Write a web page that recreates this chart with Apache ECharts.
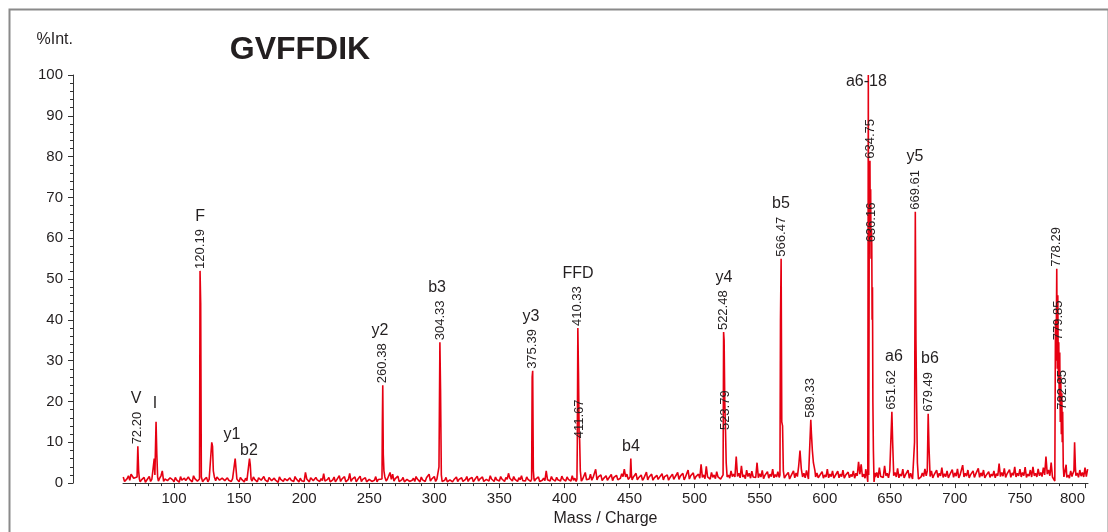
<!DOCTYPE html>
<html><head><meta charset="utf-8">
<script src="https://cdn.jsdelivr.net/npm/echarts@6/dist/echarts.min.js"></script>
<style>html,body{margin:0;padding:0;background:#fff}#c{width:1108px;height:532px}</style>
</head><body><div id="c"></div>
<script>
// ---- data ----
const title = 'GVFFDIK';
const xName = 'Mass / Charge';
const yName = '%Int.';
const xMajorTicks = [100,150,200,250,300,350,400,450,500,550,600,650,700,750,800];

// baseline noise [m/z, %int]
const baseline = [
 [61,1.5],[63,0.6],[65,1.8],[67,2.2],[69,1.2],[75,0.8],[77,1.4],[79,0.7],[81,1.6],[83,1.0],
 [89,1.2],[91,3.0],[93,1.0],[95,0.6],[97,1.3],[99,0.8],[101,1.4],[103,0.7],[105,1.6],[107,1.1],
 [109,0.6],[111,1.5],[113,0.9],[115,1.8],[117,1.0],[123,0.8],[125,1.4],[127,0.9],[133,1.5],[135,0.7],
 [137,1.2],[139,0.6],[141,1.3],[143,0.9],[145,1.1],[149,0.8],[151,1.4],[153,0.7],[155,1.2],[161,1.5],
 [163,0.8],[165,1.3],[167,0.7],[169,1.6],[171,0.9],[173,1.4],[175,0.6],[177,1.2],[179,0.8],[181,1.5],
 [183,0.7],[185,1.1],[187,0.6],[189,1.3],[191,0.9],[193,1.6],[195,0.7],[197,1.2],[199,0.8],[201,2.6],
 [203,0.9],[205,1.3],[207,0.6],[209,1.4],[211,0.8],[213,1.1],[215,2.3],[217,0.9],[219,1.4],[221,0.7],
 [223,1.5],[225,0.8],[227,1.8],[229,1.0],[231,1.6],[233,0.7],[235,2.4],[237,1.0],[239,1.5],[241,0.8],
 [243,1.7],[245,0.9],[247,1.3],[249,0.7],[251,1.2],[253,0.8],[255,1.6],[257,0.9],[264,1.0],[266,2.6],
 [268,2.2],[270,1.1],[272,1.7],[274,0.8],[276,1.4],[278,0.7],[280,1.3],[282,0.8],[284,1.2],[286,1.6],
 [288,0.7],[290,1.5],[292,0.9],[294,1.3],[296,2.2],[298,1.0],[300,1.6],[307,0.8],[309,1.4],[311,0.7],
 [313,1.2],[315,0.8],[317,1.5],[319,0.9],[321,1.3],[323,0.7],[325,1.6],[327,1.0],[329,1.4],[331,0.8],
 [333,1.7],[335,1.0],[337,1.5],[339,0.8],[341,1.3],[343,1.8],[345,0.9],[347,1.5],[349,1.0],[351,1.6],
 [353,0.9],[355,1.4],[357,2.4],[359,1.1],[361,1.6],[363,0.8],[365,1.3],[367,1.8],[369,1.0],[371,1.5],
 [373,0.9],[378,1.0],[380,1.5],[382,0.8],[384,1.2],[386,3.0],[388,1.0],[390,1.6],[392,0.9],[394,1.4],
 [396,1.1],[398,1.7],[400,0.9],[402,1.5],[404,1.0],[406,1.8],[408,1.2],[414,1.0],[416,2.6],[418,1.2],
 [420,2.2],[422,1.4],[424,3.4],[426,1.5],[428,2.0],[430,1.1],[432,1.8],[434,1.2],[436,2.1],[438,1.4],
 [440,1.9],[442,1.2],[444,2.3],[446,3.4],[448,2.2],[453,1.5],[455,2.4],[457,1.3],[459,2.0],[461,1.2],
 [463,2.7],[465,1.5],[467,2.2],[469,1.3],[471,1.9],[473,1.4],[475,2.3],[477,1.6],[479,2.0],[481,1.3],
 [483,2.2],[485,1.5],[487,2.6],[489,1.7],[491,2.4],[493,1.5],[495,3.2],[497,1.8],[499,2.5],[501,1.6],
 [503,2.2],[505,4.6],[507,2.0],[509,4.1],[511,1.8],[513,2.6],[515,2.0],[517,2.8],[519,1.7],[526,2.0],
 [528,3.0],[530,2.2],[532,6.5],[534,2.4],[536,4.2],[538,2.0],[540,3.2],[542,2.4],[544,2.9],[546,1.9],
 [548,5.0],[550,2.3],[552,3.1],[554,1.9],[556,2.8],[558,2.2],[560,3.4],[562,2.1],[564,2.8],[570,1.8],
 [572,2.6],[574,1.7],[576,3.0],[578,2.5],[580,4.2],[581,8.0],[582,3.5],[584,2.4],[586,3.1],[587.5,1.0],
 [594,2.5],[596,1.8],[598,2.8],[600,2.0],[602,3.4],[604,2.2],[606,3.0],[608,1.8],[610,2.9],[612,2.2],
 [614,3.2],[616,1.9],[618,2.7],[620,2.1],[622,3.0],[624,2.4],[626,5.2],[628,4.6],[630,2.2],[631.5,3.4],
 [640,2.6],[642,3.8],[644,2.0],[646,4.2],[648,2.4],[650,3.0],[654,2.6],[656,3.6],[658,2.2],[660,3.4],
 [662,2.0],[664,3.2],[666,2.4],[667.5,1.0],[673.5,0.8],[675,2.5],[677,3.5],[682,3.0],[684,2.0],[686,3.2],
 [688,2.4],[690,3.8],[692,2.3],[694,3.0],[696,2.0],[698,3.3],[700,2.5],[702,3.5],[704,2.0],[706,4.4],
 [708,2.4],[710,3.2],[712,2.0],[714,3.0],[716,2.2],[718,3.6],[720,2.5],[722,3.2],[724,1.9],[726,2.8],
 [728,2.2],[730,3.0],[732,2.3],[734,4.8],[736,2.6],[738,3.6],[740,2.2],[742,3.3],[744,2.5],[746,4.0],
 [748,2.4],[750,3.4],[752,2.6],[754,3.9],[756,2.2],[758,3.2],[760,4.0],[762,2.4],[764,3.5],[766,2.6],
 [768,3.8],[770,6.5],[772,3.2],[774,5.0],[775.5,1.8],[785.5,4.5],[787,2.0],[789,3.0],[790.5,2.2],[794,2.5],
 [796,3.2],[798,2.6],[800,3.8],[802,3.4]
];
// troughs of the noise between the samples above [m/z, %int]
const baselineLows = [
 [62,0.4],[64,1.1],[66,0.7],[68,2.6],[70,0.9],[74,0.3],[76,0.9],[78,0.2],[80,0.8],[82,0.4],
 [88,0.5],[90,1.8],[92,0.4],[94,1.0],[96,0.3],[98,0.9],[100,0.3],[102,0.8],[104,0.2],[106,0.7],
 [108,1.2],[110,0.4],[112,0.9],[114,0.3],[116,1.1],[118,0.5],[122,0.3],[124,0.7],[126,0.3],[132,0.6],
 [134,1.1],[136,0.3],[138,0.9],[140,0.3],[142,0.7],[144,0.4],[150,0.3],[152,0.9],[154,0.3],[156,0.6],
 [160,0.5],[162,0.9],[164,0.3],[166,1.0],[168,0.4],[170,0.8],[172,0.3],[174,1.1],[176,0.3],[178,0.7],
 [180,0.2],[182,0.9],[184,0.4],[186,0.8],[188,0.3],[190,0.7],[192,0.4],[194,1.0],[196,0.3],[198,0.6],
 [200,0.4],[202,1.0],[204,0.3],[206,0.9],[208,0.3],[210,0.8],[212,0.4],[214,0.6],[216,0.5],[218,0.9],
 [220,0.3],[222,0.8],[224,0.3],[226,1.0],[228,0.4],[230,0.8],[232,0.3],[234,0.9],[236,0.4],[238,0.8],
 [240,0.3],[242,1.0],[244,0.4],[246,0.8],[248,0.3],[250,0.9],[252,0.4],[254,0.7],[256,0.3],[258,0.8],
 [263,0.5],[265,1.0],[267,0.9],[269,0.5],[271,0.9],[273,0.4],[275,0.8],[277,0.3],[279,0.9],[281,0.4],
 [283,0.7],[285,0.4],[287,1.0],[289,0.3],[291,0.8],[293,0.4],[295,1.0],[297,0.5],[299,0.7],[301,0.4],
 [302,1.0],[306,0.4],[308,0.7],[310,0.3],[312,0.8],[314,0.3],[316,0.9],[318,0.4],[320,0.7],[322,0.4],
 [324,0.9],[326,0.4],[328,0.8],[330,0.3],[332,0.9],[334,0.5],[336,0.8],[338,0.4],[340,0.9],[342,0.5],
 [344,1.0],[346,0.4],[348,0.8],[350,0.5],[352,1.0],[354,0.4],[356,0.9],[358,1.2],[360,0.5],[362,0.9],
 [364,0.4],[366,0.8],[368,0.6],[370,0.5],[372,0.9],[374,0.4],[377,0.5],[379,0.8],[381,0.4],[383,0.7],
 [385,0.6],[387,0.8],[389,0.5],[391,0.9],[393,0.5],[395,0.8],[397,0.5],[399,1.0],[401,0.5],[403,0.9],
 [405,0.5],[407,0.7],[409,0.4],[413,0.5],[415,1.3],[417,0.8],[419,1.0],[421,0.7],[423,1.5],[425,0.8],
 [427,1.2],[429,0.6],[431,1.1],[433,0.7],[435,1.2],[437,0.6],[439,1.1],[441,0.8],[443,1.2],[445,1.6],
 [447,1.5],[449,0.9],[452,0.8],[454,1.1],[456,0.8],[458,1.2],[460,0.7],[462,1.3],[464,0.8],[466,1.2],
 [468,0.7],[470,1.3],[472,0.9],[474,1.2],[476,0.8],[478,1.4],[480,0.7],[482,1.3],[484,0.9],[486,1.5],
 [488,0.9],[490,1.3],[492,0.8],[494,1.6],[496,1.0],[498,1.4],[500,0.9],[502,1.5],[504,1.2],[506,1.4],
 [508,1.1],[510,1.5],[512,1.0],[514,1.4],[516,1.1],[518,1.5],[520,1.0],[525,1.5],[527,1.2],[529,1.6],
 [531,1.5],[533,1.6],[535,1.3],[537,1.5],[539,1.1],[541,1.6],[543,1.2],[545,1.5],[547,1.4],[549,1.3],
 [551,1.5],[553,1.1],[555,1.6],[557,1.2],[559,1.6],[561,1.3],[563,1.5],[565,1.4],[569,1.2],[571,1.4],
 [573,1.0],[575,1.5],[577,1.3],[579,1.6],[583,1.5],[585,1.3],[593,1.5],[595,1.3],[597,1.6],[599,1.2],
 [601,1.5],[603,1.3],[605,1.6],[607,1.2],[609,1.5],[611,1.3],[613,1.6],[615,1.2],[617,1.5],[619,1.3],
 [621,1.6],[623,1.2],[625,1.8],[627,2.2],[629,1.5],[631,1.2],[639,1.5],[641,1.3],[643,1.6],[645,1.4],
 [647,1.8],[649,1.3],[653,1.8],[655,1.5],[657,1.3],[659,1.7],[661,1.3],[663,1.6],[665,1.2],[674,1.5],
 [676,1.6],[678,1.8],[681,1.6],[683,1.3],[685,1.7],[687,1.4],[689,1.8],[691,1.4],[693,1.6],[695,1.3],
 [697,1.7],[699,1.4],[701,1.7],[703,1.3],[705,1.8],[707,1.5],[709,1.7],[711,1.3],[713,1.6],[715,1.4],
 [717,1.8],[719,1.4],[721,1.7],[723,1.3],[725,1.6],[727,1.4],[729,1.7],[731,1.3],[733,1.8],[735,1.6],
 [737,1.7],[739,1.4],[741,1.8],[743,1.4],[745,1.9],[747,1.5],[749,1.8],[751,1.5],[753,1.8],[755,1.4],
 [757,1.7],[759,1.5],[761,1.8],[763,1.5],[765,1.8],[767,1.6],[769,2.0],[771,2.2],[773,1.8],[775,1.5],
 [786,1.4],[788,1.2],[790,1.6],[793,1.8],[795,1.4],[797,1.7],[799,1.5],[801,1.6]
];

// peak profiles [m/z, %int]
const peaks = [
 [71.6,1.5],[72.2,9],[72.8,3],[73.4,1],
 [84.3,1],[84.8,6],[85.3,2],[85.7,2],[86.2,15],[86.8,7],[87.4,1.5],
 [119.6,1],[120.0,52],[120.5,44],[121.0,1.5],
 [128.5,1],[129.0,10],[129.6,9],[130.2,3],[131.0,1.5],
 [146.5,1],[147.0,6],[147.8,6],[148.3,1],
 [157.4,1],[158.0,6],[158.6,4.5],[159.2,1],
 [259.8,1],[260.1,15],[260.4,24],[260.8,7],[261.3,3],[262.0,1.5],
 [303.0,1],[303.6,4],[304.3,34.5],[304.8,23],[305.4,2],
 [374.8,1],[375.2,26],[375.6,27.5],[376.1,3],[376.6,1],
 [409.6,1],[409.9,10],[410.3,38],[410.8,27],[411.3,12],[411.7,10.5],[412.2,3],
 [450.5,1.5],[451.0,6],[451.5,2],
 [521.9,2],[522.3,37],[522.7,35],[523.2,20],[523.8,12.5],[524.3,5],[524.8,2.5],
 [565.6,2],[566.0,40],[566.5,55],[567.0,15],[567.6,14],[568.2,3],
 [588.7,1],[589.3,15.5],[589.8,12],[590.5,8],[591.3,5],[592.5,3],
 [632.6,1.5],[633.1,0.3],[633.5,100],[633.8,2],[634.3,78],[634.5,60],[634.75,79],[635.0,62],[635.3,72],
 [635.6,55],[635.9,62],[636.16,58.5],[636.4,40],[636.7,48],[637.0,20],[637.4,8],[637.9,0.3],[638.6,2.5],
 [651.0,3],[651.6,17.5],[652.2,10],[652.8,4],
 [668.5,1],[669.0,10],[669.6,66.5],[670.1,35],[670.6,20],[671.2,5],[672.0,1],
 [678.8,3],[679.5,17],[680.1,9],[680.8,3],
 [776.8,0.5],[777.3,40],[777.8,30],[778.29,52.5],[778.7,28],[779.1,46],[779.5,25],[779.85,34.5],[780.2,20],
 [780.6,32],[781.0,15],[781.4,26],[781.8,12],[782.2,22],[782.5,10],[782.85,17.5],[783.3,4],[783.8,1.5],
 [791.5,3],[792.0,10],[792.6,4]
];

// vertical m/z annotations
const mzLabels   = ['72.20','120.19','260.38','304.33','375.39','410.33','411.67','522.48','523.79','566.47','589.33','634.75','636.16','651.62','669.61','679.49','778.29','779.85','782.85'];
const mzLabelPos = [72.2, 120.19, 260.38, 304.33, 375.39, 410.33, 411.67, 522.48, 523.79, 566.47, 589.33, 634.75, 636.16, 651.62, 669.61, 679.49, 778.29, 779.85, 782.85];
const mzLabelInt = [9, 52, 24, 34.5, 27.5, 38, 10.5, 37, 12.5, 55, 15.5, 79, 58.5, 17.5, 66.5, 17, 52.5, 34.5, 17.5];

// ion annotations
const ionNames  = ['V','I','F','y1','b2','y2','b3','y3','FFD','b4','y4','b5','a6-18','a6','y5','b6'];
const ionPos    = [70.9, 85.4, 120.0, 144.6, 157.6, 258.3, 302.1, 374.3, 410.4, 451.1, 522.6, 566.4, 632.0, 653.2, 669.3, 680.9];
const ionLevel  = [9, 17.1, 52, 9.5, 5.6, 24, 34.5, 27.5, 38, 6.6, 37, 55, 96, 17.5, 66.5, 17];
const ionAbove  = ['72.20','','120.19','','','260.38','304.33','375.39','410.33','','522.48','566.47','','651.62','669.61','679.49'];

// ---- chart ----
const FONT = 'Liberation Sans, Arial, Helvetica, sans-serif';
const TXT = '#231f20';
const RED = '#e60012';
const numFont = 13, ionFont = 16;

const spectrum = baseline.concat(baselineLows, peaks).sort((a, b) => a[0] - b[0]);
const xMinorTicks = [];
for (let v = 70; v <= 800; v += 10) if (v % 50 !== 0) xMinorTicks.push(v);

function textWidth(s, size) {
  let w = 0;
  for (const ch of s) w += (ch === '.' ? 0.278 : 0.556);
  return w * size;
}

const numData = mzLabels.map((t, i) => ({ value: [mzLabelPos[i], mzLabelInt[i]], name: t }));
const ionData = ionNames.map((t, i) => {
  const above = ionAbove[i];
  const dist = above ? 2 + textWidth(above, numFont) + 5 : 2;
  return { value: [ionPos[i], ionLevel[i]], name: t, label: { distance: dist } };
});

const chart = echarts.init(document.getElementById('c'), null, { renderer: 'canvas' });
chart.setOption({
  animation: false,
  backgroundColor: '#fff',
  textStyle: { fontFamily: FONT },
  grid: { left: 123, right: 20, top: 75, bottom: 48, containLabel: false },
  xAxis: [{
    type: 'value', min: 60.8, max: 802.3, position: 'bottom',
    name: xName, nameLocation: 'middle', nameGap: 26,
    nameTextStyle: { fontFamily: FONT, fontSize: 16, color: TXT },
    axisLine: { show: true, onZero: false, lineStyle: { color: '#333', width: 1 } },
    axisTick: { show: true, customValues: xMajorTicks, length: 5, lineStyle: { color: '#333' } },
    axisLabel: { customValues: xMajorTicks, fontFamily: FONT, fontSize: 15, color: TXT, margin: 8, alignMaxLabel: 'right' },
    splitLine: { show: false }
  }, {
    type: 'value', min: 60.8, max: 802.3, position: 'bottom',
    axisLine: { show: false },
    axisTick: { show: true, customValues: xMinorTicks, length: 3, lineStyle: { color: '#333' } },
    axisLabel: { show: false },
    splitLine: { show: false }
  }],
  yAxis: {
    type: 'value', min: 0, max: 100, interval: 10, offset: 50,
    axisLine: { show: true, onZero: false, lineStyle: { color: '#333', width: 1 } },
    axisTick: { show: true, length: 5, lineStyle: { color: '#333' } },
    minorTick: { show: true, splitNumber: 5, length: 3, lineStyle: { color: '#333' } },
    axisLabel: { fontFamily: FONT, fontSize: 15, color: TXT, margin: 10 },
    splitLine: { show: false }
  },
  graphic: [
    { type: 'rect', left: 7, top: 7, shape: { width: 1099, height: 600 },
      style: { fill: 'none', stroke: '#8a8a8a', lineWidth: 2 }, silent: true },
    { type: 'text', x: 300, y: 50, style: { text: title, font: 'bold 32px ' + FONT, fill: TXT, align: 'center', verticalAlign: 'middle' } },
    { type: 'text', x: 73, y: 40, style: { text: yName, font: '16px ' + FONT, fill: TXT, align: 'right', verticalAlign: 'middle' } }
  ],
  series: [{
    type: 'line', data: spectrum, showSymbol: false, symbol: 'none',
    lineStyle: { color: RED, width: 1.6 }, z: 2, silent: true, clip: true
  }, {
    type: 'scatter', data: numData, symbolSize: 0, itemStyle: { color: TXT, opacity: 1 }, z: 5, silent: true,
    label: { show: true, formatter: p => p.name, position: 'top', distance: 2, rotate: 90, opacity: 1,
      align: 'left', verticalAlign: 'middle', fontFamily: FONT, fontSize: numFont, color: TXT }
  }, {
    type: 'scatter', data: ionData, symbolSize: 0, itemStyle: { color: TXT, opacity: 1 }, z: 5, silent: true,
    label: { show: true, formatter: p => p.name, position: 'top', opacity: 1, fontFamily: FONT, fontSize: ionFont, color: TXT }
  }]
});
</script>
</body></html>
